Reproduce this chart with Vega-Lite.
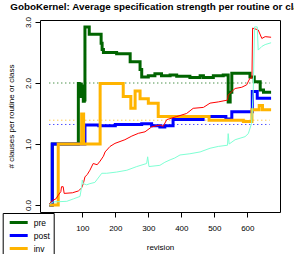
{
  "$schema": "https://vega.github.io/schema/vega-lite/v6.json",
  "autosize": "none",
  "width": 240,
  "height": 192,
  "padding": {"left": 40, "top": 20, "right": 14, "bottom": 42},
  "config": {
    "font": "Liberation Sans",
    "view": {"stroke": "black", "strokeWidth": 1},
    "axis": {"grid": false, "domain": false, "tickColor": "black", "tickSize": 5, "labelColor": "black", "labelFontSize": 8, "titleFontSize": 8, "titleFontWeight": "normal", "titleColor": "black", "labelFont": "Liberation Sans", "titleFont": "Liberation Sans", "labelOverlap": false}
  },
  "title": {"text": "GoboKernel: Average specification strength per routine or class", "anchor": "middle", "frame": "group", "fontSize": 9.85, "fontWeight": "bold", "font": "Liberation Sans", "color": "black", "offset": 5},
  "datasets": {
    "thick": [
      {"s": "pre", "r": 0, "v": 0}, {"s": "pre", "r": 9, "v": 1.0}, {"s": "pre", "r": 88, "v": 1.99}, {"s": "pre", "r": 91, "v": 1.8}, {"s": "pre", "r": 94, "v": 1.98}, {"s": "pre", "r": 97, "v": 1.78}, {"s": "pre", "r": 100, "v": 1.95}, {"s": "pre", "r": 103, "v": 1.7}, {"s": "pre", "r": 106, "v": 1.72}, {"s": "pre", "r": 108, "v": 2.92}, {"s": "pre", "r": 121, "v": 2.8}, {"s": "pre", "r": 157, "v": 2.65}, {"s": "pre", "r": 160, "v": 2.55}, {"s": "pre", "r": 164, "v": 2.5}, {"s": "pre", "r": 204, "v": 2.48}, {"s": "pre", "r": 245, "v": 2.35}, {"s": "pre", "r": 275, "v": 2.22}, {"s": "pre", "r": 280, "v": 2.1}, {"s": "pre", "r": 300, "v": 2.12}, {"s": "pre", "r": 320, "v": 2.15}, {"s": "pre", "r": 340, "v": 2.12}, {"s": "pre", "r": 366, "v": 2.13}, {"s": "pre", "r": 386, "v": 2.11}, {"s": "pre", "r": 426, "v": 2.09}, {"s": "pre", "r": 457, "v": 2.12}, {"s": "pre", "r": 467, "v": 2.09}, {"s": "pre", "r": 497, "v": 2.12}, {"s": "pre", "r": 527, "v": 2.13}, {"s": "pre", "r": 542, "v": 1.69}, {"s": "pre", "r": 548, "v": 1.85}, {"s": "pre", "r": 553, "v": 2.16}, {"s": "pre", "r": 608, "v": 2.1}, {"s": "pre", "r": 621, "v": 2.02}, {"s": "pre", "r": 639, "v": 1.885}, {"s": "pre", "r": 649, "v": 1.85}, {"s": "pre", "r": 672, "v": 1.85},
      {"s": "post", "r": 0, "v": 0}, {"s": "post", "r": 9, "v": 1.0}, {"s": "post", "r": 108, "v": 1.31}, {"s": "post", "r": 150, "v": 1.3}, {"s": "post", "r": 200, "v": 1.32}, {"s": "post", "r": 280, "v": 1.33}, {"s": "post", "r": 310, "v": 1.3}, {"s": "post", "r": 335, "v": 1.28}, {"s": "post", "r": 350, "v": 1.3}, {"s": "post", "r": 375, "v": 1.4}, {"s": "post", "r": 466, "v": 1.45}, {"s": "post", "r": 535, "v": 1.41}, {"s": "post", "r": 553, "v": 1.53}, {"s": "post", "r": 615, "v": 1.86}, {"s": "post", "r": 630, "v": 1.75}, {"s": "post", "r": 672, "v": 1.75},
      {"s": "inv", "r": 0, "v": 0}, {"s": "inv", "r": 27, "v": 1.0}, {"s": "inv", "r": 98, "v": 1.49}, {"s": "inv", "r": 104, "v": 1.0}, {"s": "inv", "r": 154, "v": 1.99}, {"s": "inv", "r": 224, "v": 1.78}, {"s": "inv", "r": 247, "v": 1.585}, {"s": "inv", "r": 260, "v": 1.87}, {"s": "inv", "r": 275, "v": 1.74}, {"s": "inv", "r": 300, "v": 1.67}, {"s": "inv", "r": 330, "v": 1.45}, {"s": "inv", "r": 484, "v": 1.39}, {"s": "inv", "r": 588, "v": 1.37}, {"s": "inv", "r": 614, "v": 1.56}, {"s": "inv", "r": 636, "v": 1.63}, {"s": "inv", "r": 646, "v": 1.56}, {"s": "inv", "r": 672, "v": 1.56}
    ],
    "thin": [
      {"s": "series4", "r": 0, "v": 0}, {"s": "series4", "r": 5, "v": 0.05}, {"s": "series4", "r": 12, "v": 0.08}, {"s": "series4", "r": 20, "v": 0.1}, {"s": "series4", "r": 27, "v": 0.16}, {"s": "series4", "r": 35, "v": 0.22}, {"s": "series4", "r": 37, "v": 0.3}, {"s": "series4", "r": 42, "v": 0.3}, {"s": "series4", "r": 45, "v": 0.19}, {"s": "series4", "r": 70, "v": 0.2}, {"s": "series4", "r": 88, "v": 0.23}, {"s": "series4", "r": 98, "v": 0.28}, {"s": "series4", "r": 103, "v": 0.35}, {"s": "series4", "r": 108, "v": 0.46}, {"s": "series4", "r": 115, "v": 0.5}, {"s": "series4", "r": 123, "v": 0.57}, {"s": "series4", "r": 133, "v": 0.68}, {"s": "series4", "r": 145, "v": 0.66}, {"s": "series4", "r": 154, "v": 0.72}, {"s": "series4", "r": 164, "v": 0.8}, {"s": "series4", "r": 169, "v": 0.87}, {"s": "series4", "r": 184, "v": 0.96}, {"s": "series4", "r": 199, "v": 1.01}, {"s": "series4", "r": 229, "v": 1.07}, {"s": "series4", "r": 250, "v": 1.13}, {"s": "series4", "r": 270, "v": 1.175}, {"s": "series4", "r": 290, "v": 1.2}, {"s": "series4", "r": 310, "v": 1.28}, {"s": "series4", "r": 335, "v": 1.31}, {"s": "series4", "r": 345, "v": 1.29}, {"s": "series4", "r": 356, "v": 1.4}, {"s": "series4", "r": 386, "v": 1.45}, {"s": "series4", "r": 416, "v": 1.5}, {"s": "series4", "r": 436, "v": 1.585}, {"s": "series4", "r": 467, "v": 1.6}, {"s": "series4", "r": 487, "v": 1.67}, {"s": "series4", "r": 512, "v": 1.69}, {"s": "series4", "r": 540, "v": 1.72}, {"s": "series4", "r": 542, "v": 1.8}, {"s": "series4", "r": 553, "v": 1.86}, {"s": "series4", "r": 563, "v": 1.91}, {"s": "series4", "r": 583, "v": 1.93}, {"s": "series4", "r": 598, "v": 1.97}, {"s": "series4", "r": 608, "v": 2.08}, {"s": "series4", "r": 614, "v": 2.08}, {"s": "series4", "r": 616, "v": 2.9}, {"s": "series4", "r": 633, "v": 2.87}, {"s": "series4", "r": 644, "v": 2.73}, {"s": "series4", "r": 654, "v": 2.76}, {"s": "series4", "r": 672, "v": 2.75},
      {"s": "series5", "r": 0, "v": 0}, {"s": "series5", "r": 5, "v": 0.03}, {"s": "series5", "r": 12, "v": 0.05}, {"s": "series5", "r": 53, "v": 0.06}, {"s": "series5", "r": 73, "v": 0.1}, {"s": "series5", "r": 93, "v": 0.14}, {"s": "series5", "r": 98, "v": 0.3}, {"s": "series5", "r": 100, "v": 0.41}, {"s": "series5", "r": 103, "v": 0.35}, {"s": "series5", "r": 113, "v": 0.33}, {"s": "series5", "r": 123, "v": 0.35}, {"s": "series5", "r": 138, "v": 0.37}, {"s": "series5", "r": 159, "v": 0.52}, {"s": "series5", "r": 174, "v": 0.52}, {"s": "series5", "r": 204, "v": 0.54}, {"s": "series5", "r": 235, "v": 0.57}, {"s": "series5", "r": 265, "v": 0.63}, {"s": "series5", "r": 295, "v": 0.68}, {"s": "series5", "r": 298, "v": 0.79}, {"s": "series5", "r": 302, "v": 0.63}, {"s": "series5", "r": 335, "v": 0.65}, {"s": "series5", "r": 350, "v": 0.7}, {"s": "series5", "r": 366, "v": 0.74}, {"s": "series5", "r": 380, "v": 0.77}, {"s": "series5", "r": 396, "v": 0.82}, {"s": "series5", "r": 426, "v": 0.84}, {"s": "series5", "r": 457, "v": 0.87}, {"s": "series5", "r": 487, "v": 0.93}, {"s": "series5", "r": 512, "v": 0.96}, {"s": "series5", "r": 540, "v": 0.98}, {"s": "series5", "r": 542, "v": 1.17}, {"s": "series5", "r": 545, "v": 1.0}, {"s": "series5", "r": 563, "v": 1.07}, {"s": "series5", "r": 593, "v": 1.12}, {"s": "series5", "r": 603, "v": 1.17}, {"s": "series5", "r": 613, "v": 1.34}, {"s": "series5", "r": 618, "v": 1.9}, {"s": "series5", "r": 622, "v": 2.92}, {"s": "series5", "r": 630, "v": 2.92}, {"s": "series5", "r": 633, "v": 2.54}, {"s": "series5", "r": 644, "v": 2.6}, {"s": "series5", "r": 654, "v": 2.63}, {"s": "series5", "r": 672, "v": 2.66}
    ],
    "means": [
      {"s": "pre", "m": 2.0, "r0": 0, "r1": 668},
      {"s": "post", "m": 1.32, "r0": 0, "r1": 668},
      {"s": "inv", "m": 1.39, "r0": 0, "r1": 668}
    ]
  },
  "resolve": {"scale": {"color": "independent"}, "legend": {"color": "independent"}},
  "layer": [
    {
      "data": {"name": "means"},
      "mark": {"type": "rule", "strokeDash": [1, 3], "strokeWidth": 1},
      "encoding": {
        "x": {"field": "r0", "type": "quantitative", "scale": {"domain": [-28.2, 699], "nice": false, "zero": false},
          "axis": {"values": [100, 200, 300, 400, 500, 600], "title": "revision", "labelPadding": 7, "titlePadding": 11, "labelOverlap": false}},
        "x2": {"field": "r1"},
        "y": {"field": "m", "type": "quantitative", "scale": {"domain": [-0.115, 3.033], "nice": false, "zero": false},
          "axis": {"values": [0, 0.5, 1, 1.5, 2, 2.5, 3], "format": ".1f", "title": "# clauses per routine or class", "labelAngle": 270, "labelAlign": "center", "labelBaseline": "middle", "labelPadding": 6.5, "titlePadding": 9, "labelOverlap": false}},
        "color": {"field": "s", "type": "nominal", "scale": {"domain": ["pre", "post", "inv"], "range": ["#006400", "#0000ff", "#ffb400"]}, "legend": null}
      }
    },
    {
      "data": {"name": "thick"},
      "mark": {"type": "line", "interpolate": "step-after", "strokeWidth": 3},
      "encoding": {
        "x": {"field": "r", "type": "quantitative", "scale": {"domain": [-28.2, 699], "nice": false, "zero": false},
          "axis": {"values": [100, 200, 300, 400, 500, 600], "title": "revision", "labelPadding": 7, "titlePadding": 11, "labelOverlap": false}},
        "y": {"field": "v", "type": "quantitative", "scale": {"domain": [-0.115, 3.033], "nice": false, "zero": false},
          "axis": {"values": [0, 0.5, 1, 1.5, 2, 2.5, 3], "format": ".1f", "title": "# clauses per routine or class", "labelAngle": 270, "labelAlign": "center", "labelBaseline": "middle", "labelPadding": 6.5, "titlePadding": 9, "labelOverlap": false}},
        "color": {"field": "s", "type": "nominal", "scale": {"domain": ["pre", "post", "inv"], "range": ["#006400", "#0000ff", "#ffb400"]},
          "legend": {"orient": "none", "legendX": -37.3, "legendY": 193, "title": null, "fillColor": "white", "strokeColor": "black", "padding": 3, "symbolType": "M-0.5,0H3.1", "symbolStrokeWidth": 3, "symbolSize": 100, "labelFontSize": 8.5, "labelColor": "black", "labelOffset": 15, "rowPadding": -2.5}}
      }
    },
    {
      "data": {"name": "thin"},
      "mark": {"type": "line", "strokeWidth": 1},
      "encoding": {
        "x": {"field": "r", "type": "quantitative"},
        "y": {"field": "v", "type": "quantitative"},
        "color": {"field": "s", "type": "nominal", "scale": {"domain": ["series4", "series5"], "range": ["#ff0000", "#7fffd4"]}, "legend": null}
      }
    }
  ]
}
